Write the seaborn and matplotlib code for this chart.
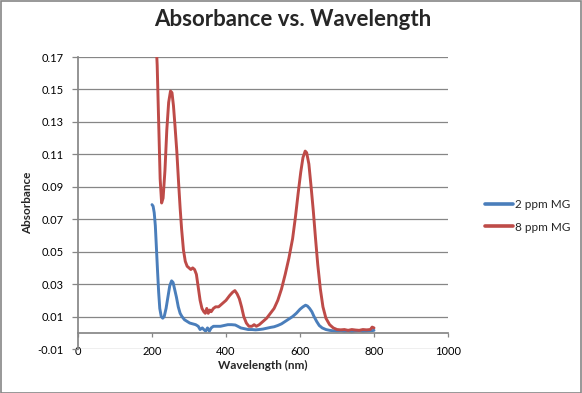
"""Absorbance vs. wavelength for two malachite green (MG) standards."""

import matplotlib
matplotlib.use("Agg")
import matplotlib.pyplot as plt
import numpy as np
import pandas as pd
import seaborn as sns
from matplotlib.patches import Rectangle


# 2 ppm MG spectrum (wavelength nm, absorbance)
WL_2PPM = [200, 203, 206, 209, 212, 215, 218, 221, 225, 229, 233, 238, 243,
           248, 253, 257, 261, 266, 271, 276, 281, 288, 295, 302, 310, 318,
           325, 330, 336, 340, 345, 350, 355, 360, 366, 375, 385, 395, 405,
           415, 425, 432, 440, 450, 460, 470, 480, 490, 500, 510, 520, 530,
           540, 550, 560, 570, 580, 590, 600, 608, 615, 620, 626, 632, 638,
           645, 652, 660, 670, 680, 690, 700, 710, 720, 730, 740, 750, 760,
           770, 780, 790, 800]
ABS_2PPM = [0.079, 0.078, 0.074, 0.066, 0.052, 0.038, 0.025, 0.015, 0.010,
            0.009, 0.010, 0.015, 0.022, 0.029, 0.032, 0.031, 0.027, 0.022,
            0.016, 0.012, 0.010, 0.008, 0.007, 0.006, 0.0055, 0.005, 0.004,
            0.002, 0.003, 0.002, 0.001, 0.003, 0.001, 0.003, 0.004, 0.004,
            0.004, 0.0045, 0.005, 0.005, 0.0048, 0.004, 0.003, 0.0025, 0.002,
            0.002, 0.0018, 0.002, 0.0023, 0.0028, 0.0033, 0.0037, 0.0045,
            0.0055, 0.007, 0.0085, 0.010, 0.012, 0.0145, 0.016, 0.017, 0.0165,
            0.015, 0.013, 0.010, 0.007, 0.0045, 0.003, 0.002, 0.0015, 0.0012,
            0.001, 0.0012, 0.0008, 0.001, 0.0006, 0.001, 0.0012, 0.0008,
            0.001, 0.0012, 0.0015]

# 8 ppm MG spectrum
WL_8PPM = [210, 214, 218, 222, 226, 230, 235, 240, 245, 250, 254, 258, 262,
           267, 272, 276, 280, 285, 290, 295, 300, 305, 310, 315, 320, 325,
           330, 335, 340, 344, 348, 352, 356, 360, 366, 372, 380, 390, 400,
           410, 418, 424, 430, 436, 442, 448, 455, 462, 470, 476, 482, 490,
           500, 510, 520, 530, 540, 550, 560, 570, 580, 588, 595, 602, 608,
           614, 618, 624, 630, 636, 642, 648, 655, 662, 670, 680, 690, 700,
           710, 720, 730, 740, 750, 760, 770, 780, 790, 795, 800]
ABS_8PPM = [0.185, 0.165, 0.130, 0.095, 0.080, 0.083, 0.100, 0.125, 0.142,
            0.149, 0.148, 0.140, 0.128, 0.112, 0.092, 0.077, 0.064, 0.051,
            0.044, 0.041, 0.040, 0.039, 0.040, 0.039, 0.036, 0.028, 0.020,
            0.015, 0.013, 0.012, 0.015, 0.012, 0.014, 0.013, 0.015, 0.016,
            0.016, 0.018, 0.020, 0.023, 0.025, 0.026, 0.024, 0.021, 0.016,
            0.010, 0.006, 0.004, 0.004, 0.005, 0.004, 0.005, 0.007, 0.009,
            0.012, 0.015, 0.020, 0.027, 0.036, 0.046, 0.058, 0.072, 0.086,
            0.099, 0.108, 0.112, 0.111, 0.104, 0.090, 0.075, 0.058, 0.042,
            0.027, 0.016, 0.009, 0.005, 0.003, 0.002, 0.0018, 0.002, 0.0015,
            0.002, 0.0017, 0.0015, 0.002, 0.0018, 0.002, 0.0035, 0.003]

SERIES = ["2 ppm MG", "8 ppm MG"]
COLORS = ["#4A7EBB", "#BE4B48"]
Y_TICKS = [-0.01, 0.01, 0.03, 0.05, 0.07, 0.09, 0.11, 0.13, 0.15, 0.17]
X_TICKS = [0, 200, 400, 600, 800, 1000]


def build_frame():
    parts = []
    for name, wl, ab in zip(SERIES, [WL_2PPM, WL_8PPM], [ABS_2PPM, ABS_8PPM]):
        parts.append(pd.DataFrame({"wavelength": wl, "absorbance": ab, "series": name}))
    return pd.concat(parts, ignore_index=True)


def main():
    sns.set_theme(style="white")
    plt.rcParams["font.family"] = ["Lato", "DejaVu Sans"]
    grey = "#868686"

    df = build_frame()
    fig = plt.figure(figsize=(5.82, 3.93), dpi=100)
    ax = fig.add_axes([78 / 582, 1 - 349 / 393, 370 / 582, 292 / 393])

    sns.lineplot(data=df, x="wavelength", y="absorbance", hue="series",
                 hue_order=SERIES, palette=COLORS, sort=False, estimator=None,
                 linewidth=2.1, ax=ax, legend=False)

    ax.set_xlim(0, 1000)
    ax.set_ylim(-0.01, 0.17)
    ax.set_xticks(X_TICKS)
    ax.set_yticks(Y_TICKS)
    ax.set_yticklabels([f"{v:.2f}" for v in Y_TICKS])
    ax.grid(axis="y", color=grey, linewidth=0.9)
    ax.grid(axis="x", visible=False)
    ax.set_axisbelow(True)

    for side in ["top", "right"]:
        ax.spines[side].set_visible(False)
    ax.spines["left"].set_color(grey)
    ax.spines["bottom"].set_color(grey)
    ax.spines["bottom"].set_position(("data", 0))
    ax.tick_params(axis="y", direction="out", length=4.3, color=grey, width=0.9,
                   labelsize=8, pad=6, left=True, labelcolor="#000000")
    ax.tick_params(axis="x", direction="out", length=3, color=grey, width=0.9,
                   labelsize=8, pad=6.5, bottom=True, labelcolor="#000000")

    ax.set_xlabel("Wavelength (nm)", fontsize=8.5, fontweight="bold", labelpad=2)
    ax.set_ylabel("Absorbance", fontsize=8.5, fontweight="bold", labelpad=3)
    fig.suptitle("Absorbance vs. Wavelength", x=293 / 582, y=1 - 19 / 393,
                 va="center", fontsize=16, fontweight="bold")

    handles = [plt.Line2D([], [], color=c, linewidth=2.6) for c in COLORS]
    fig.legend(handles, SERIES, loc="center left",
               bbox_to_anchor=(474 / 582, 1 - 216 / 393), frameon=False,
               fontsize=8.5, handlelength=2.4, handletextpad=0.2,
               labelspacing=0.95)

    fig.add_artist(Rectangle((0.001, 0.001), 0.997, 0.997, transform=fig.transFigure,
                             fill=False, edgecolor=grey, linewidth=1.2))
    fig.savefig("out.png", dpi=100)
    plt.close(fig)


if __name__ == "__main__":
    main()
